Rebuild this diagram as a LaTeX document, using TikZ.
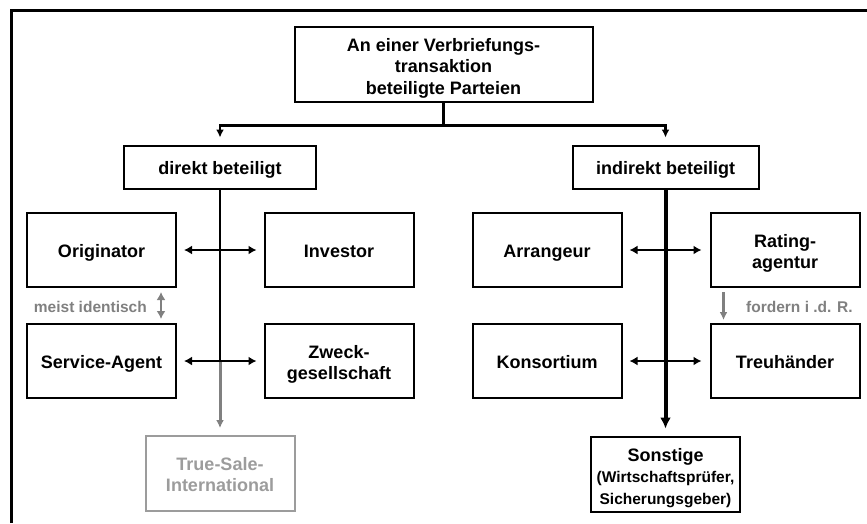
\documentclass[tikz,border=0pt]{standalone}
\usepackage{fontspec}
\setmainfont{Liberation Sans}
\usetikzlibrary{arrows.meta,calc}
\definecolor{labelgray}{HTML}{808080}
\definecolor{softgray}{HTML}{9C9C9C}
\newcommand\subsize{\fontsize{15.5}{18.5}\selectfont}
% invisible strut that moves a multi-line text block down inside its box
\newcommand\toppad[1]{\rule{0pt}{#1}}
\begin{document}
\begin{tikzpicture}[x=1pt,y=-1pt,
  box/.style={draw, line width=2pt, minimum width=149pt, minimum height=74pt,
    align=center, inner sep=2pt, font=\bfseries\fontsize{18}{21.5}\selectfont},
  oneline/.style={text height=16pt, text depth=2pt},
  headbox/.style={box, oneline, minimum height=43pt},
  link/.style={line width=2.2pt},
  tip/.style={-{Latex[length=8pt,width=8pt]}},
  bigtip/.style={-{Latex[length=11pt,width=11pt]}},
  both/.style={{Latex[length=8pt,width=9pt]}-{Latex[length=8pt,width=9pt]}},
  note/.style={text=labelgray, inner sep=0pt,
    font=\bfseries\fontsize{15.5}{18}\selectfont}
]
\useasboundingbox (0,0) rectangle (867,523);

% frame, open to the right and bottom
\draw[line width=3pt] (11,523) -- (11,10) -- (867,10);

% top level
\node[box, minimum width=298pt, minimum height=75pt] (top) at (443.5,64)
  {\toppad{21pt}An einer Verbriefungs-\\transaktion\\beteiligte Parteien};
\node[headbox, minimum width=192pt] (direkt) at (220,167) {direkt beteiligt};
\node[headbox, minimum width=186pt] (indirekt) at (665.5,167) {indirekt beteiligt};

% directly involved parties
\node[box, oneline] (orig) at (101.5,250) {Originator};
\node[box, oneline] (inv) at (339,250) {Investor};
\node[box, oneline] (serv) at (101.5,361) {Service-Agent};
\node[box] (zweck) at (339,361) {\toppad{20pt}Zweck-\\gesellschaft};
\node[box, draw=softgray, text=softgray, minimum height=75pt] (tsi) at (220,473.5)
  {\toppad{15pt}True-Sale-\\International};

% indirectly involved parties
\node[box, oneline] (arr) at (547,250) {Arrangeur};
\node[box] (rating) at (785,250) {\toppad{20pt}Rating-\\agentur};
\node[box, oneline] (kons) at (547,361) {Konsortium};
\node[box, oneline] (treu) at (785,361) {Treuhänder};
\node[box, minimum height=75pt] (sonst) at (665.5,474)
  {\toppad{21pt}Sonstige\\\subsize(Wirtschaftsprüfer,\\\subsize Sicherungsgeber)};

% split below the top box
\draw[link] (top.south) -- ++(0,23) coordinate (split);
\draw[link, tip, shorten >=7pt] (split) -| (direkt.north);
\draw[link, tip, shorten >=7pt] (split) -| (indirekt.north);

% left trunk: black down to the lower pair, then grey to True-Sale-International
\coordinate (leftmid) at (direkt.south |- serv.east);
\draw[line width=2.4pt] (direkt.south) -- (leftmid);
\draw[line width=3pt, labelgray, tip, shorten >=7pt] (leftmid) -- (tsi.north);

% right trunk
\draw[line width=4pt, bigtip, shorten >=7pt] (indirekt.south) -- (sonst.north);

% pairwise relations
\draw[link, both, shorten <=7pt, shorten >=7pt] (orig) -- (inv);
\draw[link, both, shorten <=7pt, shorten >=7pt] (serv) -- (zweck);
\draw[link, both, shorten <=7pt, shorten >=8pt] (arr) -- (rating);
\draw[link, both, shorten <=7pt, shorten >=8pt] (kons) -- (treu);

% grey side notes
\draw[line width=2.8pt, labelgray, both, shorten <=4pt, shorten >=4pt]
  ($(orig.south)+(59.5,0)$) -- ($(serv.north)+(59.5,0)$);
\node[note, anchor=east] (meist) at (147,307) {meist identisch};
\draw[line width=2.8pt, labelgray, tip, shorten <=4pt, shorten >=3pt]
  ($(rating.south west)+(14,0)$) -- ($(treu.north west)+(14,0)$);
\node[note, anchor=west] (fordern) at (746,307) {fordern i .d. R.};
\end{tikzpicture}
\end{document}
